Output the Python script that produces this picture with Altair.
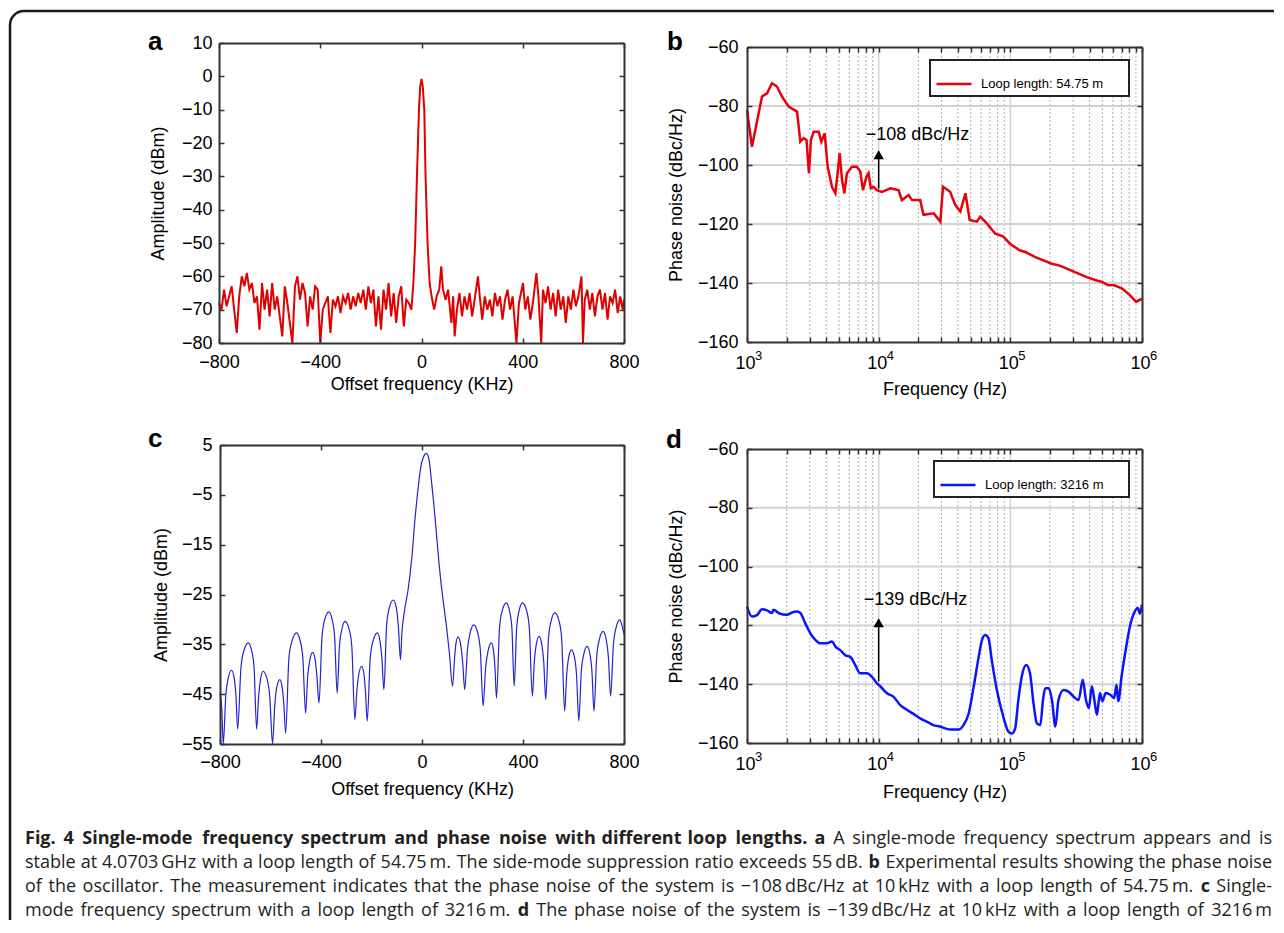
import altair as alt
import pandas as pd

# ---------------- data ----------------
# (a) spectrum, loop 54.75 m : offset frequency (kHz) / amplitude (dBm)
A_F = [-800, -790, -780, -770, -760, -750, -740, -730, -720, -710,
       -700, -690, -680, -670, -660, -650, -640, -630, -620, -610,
       -600, -590, -580, -570, -560, -550, -540, -530, -520, -510,
       -500, -490, -480, -470, -460, -450, -440, -430, -420, -410,
       -400, -390, -380, -370, -360, -350, -340, -330, -320, -310,
       -300, -290, -280, -270, -260, -250, -240, -230, -220, -210,
       -200, -190, -180, -170, -160, -150, -140, -130, -120, -110,
       -100, -90, -80, -70, -60, -50, -40, -32, -25, -18,
       -10, -5, 0, 5, 11, 16, 24, 32, 40, 50,
       60, 70, 78, 85, 95, 105, 118, 125, 131, 140,
       150, 160, 170, 180, 190, 200, 210, 223, 230, 240,
       250, 260, 270, 280, 290, 300, 310, 320, 330, 340,
       350, 360, 375, 385, 401, 410, 420, 430, 440, 454,
       462, 473, 480, 490, 500, 510, 520, 530, 540, 550,
       560, 570, 580, 590, 600, 610, 620, 632, 638, 645,
       655, 665, 675, 685, 695, 705, 715, 725, 735, 745,
       755, 765, 775, 785, 795, 800]
A_P = [-68, -70, -64, -69, -66, -63, -70, -77, -66, -60,
       -63, -59, -64, -62, -68, -66, -76, -62, -70, -64,
       -72, -62, -70, -66, -72, -78, -63, -68, -74, -82,
       -63, -60, -67, -62, -65, -75, -66, -70, -63, -64,
       -82, -70, -68, -66, -77, -67, -69, -66, -71, -66,
       -68, -65, -70, -66, -69, -65, -68, -64, -70, -63,
       -68, -64, -75, -66, -76, -64, -70, -62, -72, -65,
       -74, -66, -63, -75, -67, -68, -70, -62, -50, -30,
       -10, -3, -0.8, -3, -10, -30, -50, -62, -66, -70,
       -66, -64, -57, -64, -67, -64, -74, -66, -78, -70,
       -65, -72, -66, -70, -65, -72, -67, -60, -66, -73,
       -66, -70, -67, -72, -65, -69, -66, -73, -67, -64,
       -70, -66, -82, -68, -62, -70, -66, -73, -68, -59,
       -66, -82, -64, -68, -63, -70, -65, -72, -64, -70,
       -66, -74, -66, -70, -64, -69, -66, -60, -82, -67,
       -64, -70, -65, -72, -66, -64, -70, -65, -73, -66,
       -68, -64, -71, -66, -70, -67]

# (b) phase noise, loop 54.75 m : frequency (Hz) / dBc/Hz
B_F = [1000, 1091, 1191, 1300, 1419, 1548, 1690, 1844, 2071, 2398,
       2541, 2692, 2830, 2955, 3060, 3209, 3504, 3667, 3890, 4098,
       4420, 4690, 4878, 5056, 5270, 5489, 5740, 6260, 6840, 7250,
       7600, 8070, 8370, 8720, 9150, 9700, 10600, 12260, 14150, 15000,
       16900, 17900, 20670, 21900, 26200, 29400, 30800, 34900, 38200, 41700,
       45600, 49100, 55600, 59100, 66300, 76500, 88500, 99500, 117500, 130000,
       154900, 204200, 240000, 288400, 330000, 380200, 440000, 501200, 550000, 616600,
       707900, 812800, 901600, 1000000]
B_P = [-81.4, -93.8, -85.3, -76.8, -75.7, -72.3, -73.4, -76.8, -80.2, -81.9,
       -92.1, -90.9, -91.5, -102.8, -91.5, -88.7, -88.7, -92.1, -89.3, -100.6,
       -107.4, -109.6, -102.8, -96.0, -105.1, -109.6, -102.8, -100.6, -100.6, -102.2,
       -108.5, -104.0, -102.8, -107.9, -107.4, -108.5, -109.1, -107.9, -108.5, -111.9,
       -110.2, -111.9, -111.9, -116.9, -116.4, -119.2, -107.4, -109.1, -113.6, -115.8,
       -109.6, -118.6, -119.2, -117.5, -119.8, -123.2, -124.3, -126.7, -128.9, -129.5,
       -131.2, -133.4, -134.2, -135.7, -136.8, -138.0, -139.0, -139.7, -140.7, -140.8,
       -141.9, -144.2, -146.4, -145.3]

# (c) spectrum, loop 3216 m : offset frequency (kHz) / amplitude (dBm)
C_F = [-800, -793, -787, -777, -767, -754, -744, -737, -730, -717, -705, -688, -675, -665, -655,
       -647, -639, -629, -614, -603, -592, -583, -575, -563, -554, -547, -540, -527, -514, -497,
       -483, -472, -461, -453, -444, -433, -423, -416, -408, -396, -385, -369, -356, -346, -336,
       -327, -317, -305, -289, -278, -266, -258, -250, -239, -230, -224, -217, -205, -193, -177,
       -167, -159, -151, -140, -129, -114, -102, -94, -85, -80, -70, -55, -40, -28, -15,
       -5, 5, 18, 28, 38, 48, 57, 67, 77, 87, 97, 108, 121, 128, 134,
       143, 153, 161, 169, 180, 191, 205, 220, 231, 242, 252, 262, 275, 283, 289,
       295, 307, 318, 334, 346, 356, 365, 375, 385, 398, 414, 425, 437, 445, 453,
       464, 474, 482, 490, 501, 512, 526, 542, 553, 565, 573, 581, 592, 604, 612,
       621, 631, 641, 654, 665, 673, 681, 692, 703, 717, 729, 738, 747, 758, 769,
       783, 792, 800]
C_P = [-44.8, -48, -55, -45.2, -41.7, -40.2, -41.7, -45.2, -52, -39.7, -36.2, -34.7, -36.2, -39.7, -52,
       -45.4, -41.9, -40.4, -41.9, -45.4, -55, -47.1, -43.6, -42.1, -43.6, -47.1, -52.8, -37.7, -34.2, -32.7,
       -34.2, -37.7, -48.8, -41.6, -38.1, -36.6, -38.1, -41.6, -46.8, -33.5, -30, -28.5, -30, -33.5, -44.8,
       -35.4, -31.9, -30.4, -31.9, -35.4, -50.1, -44.4, -40.9, -39.4, -40.9, -44.4, -50.4, -37.7, -34.2, -32.7,
       -34.2, -37.7, -44.1, -31.1, -27.6, -26.1, -27.6, -31.1, -38.1, -33, -28.5, -24, -17.5, -10, -3.5,
       0.5, 2.5, 3.3, 2, -2.5, -7.5, -12.7, -18.5, -23.4, -27.5, -31.4, -36.5, -43.4, -38.5, -35,
       -33.5, -35, -38.5, -44.1, -36.1, -32.6, -31.1, -32.6, -36.1, -47.4, -39.7, -36.2, -34.7, -36.2, -39.7,
       -45.8, -31.7, -28.2, -26.7, -28.2, -31.7, -43.4, -31.7, -28.2, -26.7, -28.2, -31.7, -45.4, -38.4, -34.9,
       -33.4, -34.9, -38.4, -46.1, -33.7, -30.2, -28.7, -30.2, -33.7, -48.4, -41.1, -37.6, -36.1, -37.6, -41.1,
       -50.4, -40.4, -36.9, -35.4, -36.9, -40.4, -48.4, -37.4, -33.9, -32.4, -33.9, -37.4, -45.4, -35.1, -31.6,
       -30.1, -31.2, -33]

# (d) phase noise, loop 3216 m : frequency (Hz) / dBc/Hz
D_F = [1000, 1091, 1191, 1300, 1419, 1548, 1590, 1740, 2012, 2200,
       2398, 2541, 2772, 3028, 3305, 3606, 4051, 4420, 4690, 5110,
       5570, 6090, 6640, 7250, 8140, 8900, 9700, 10280, 11570, 12990,
       14580, 16370, 18380, 20630, 23160, 26000, 29200, 34900, 40400, 44100,
       48300, 52700, 57500, 60900, 64500, 68300, 72300, 79000, 88500, 96900,
       102600, 108700, 115000, 122000, 132000, 141000, 150000, 159000, 169000, 177000,
       184000, 196000, 207000, 220000, 232000, 254000, 278000, 304000, 330000, 355000,
       375000, 395000, 416000, 438000, 455000, 479000, 500000, 530000, 575000, 615000,
       640000, 660000, 700000, 760000, 810000, 870000, 930000, 965000, 1000000]
D_P = [-113.6, -117.0, -116.5, -114.5, -114.9, -115.8, -114.7, -115.8, -116.4, -115.6,
       -115.3, -115.8, -119.3, -122.7, -124.9, -126.1, -126.1, -125.5, -127.2, -128.4,
       -130.1, -130.7, -133.5, -136.3, -136.3, -137.5, -139.7, -140.7, -143.1, -144.3,
       -147.1, -148.7, -150.1, -151.6, -152.7, -153.9, -154.4, -155.4, -155.4, -153.9,
       -149.9, -140.8, -130.7, -125.0, -123.3, -124.4, -131.8, -142.0, -151.1, -156.2,
       -156.8, -155.1, -145.4, -137.5, -133.5, -136.3, -146.5, -153.3, -153.9, -145.4,
       -141.4, -141.4, -145.4, -154.4, -145.4, -142.0, -142.6, -144.3, -145.4, -138.5,
       -145.3, -148.1, -140.7, -146.4, -150.4, -143.0, -145.8, -143.0, -143.6, -144.7,
       -140.2, -145.8, -137.3, -127.1, -120.3, -115.8, -114.1, -116.0, -112.9]

LIN_X_TICKS = [-800, -400, 0, 400, 800]
A_Y_TICKS = [-80, -70, -60, -50, -40, -30, -20, -10, 0, 10]
C_Y_TICKS = [-55, -45, -35, -25, -15, -5, 5]
PN_Y_TICKS = [-160, -140, -120, -100, -80, -60]
PN_GRID_Y = [-140, -120, -100, -80]
LOG_MAJOR = [1e3, 1e4, 1e5, 1e6]
LOG_EXP = ["3", "4", "5", "6"]
LOG_INNER_MAJOR = [1e4, 1e5]
LOG_MINOR = [2e3, 3e3, 4e3, 5e3, 6e3, 7e3, 8e3, 9e3,
             2e4, 3e4, 4e4, 5e4, 6e4, 7e4, 8e4, 9e4,
             2e5, 3e5, 4e5, 5e5, 6e5, 7e5, 8e5, 9e5]
LOG_TICKS = sorted(LOG_MAJOR + LOG_MINOR)

PAD = "\u2800" * 2   # blank pattern, widens the legend box on the right
LEG_B = "Loop length: 54.75 m" + PAD
LEG_D = "Loop length: 3216 m" + PAD

CAPTION = [
    [("Fig. 4 Single-mode frequency spectrum and phase noise with different loop lengths. a", "bold"),
     ("A single-mode frequency spectrum appears and is", "normal")],
    [("stable at 4.0703\u2009GHz with a loop length of 54.75\u2009m. The side-mode suppression ratio exceeds 55\u2009dB.", "normal"),
     ("b", "bold"),
     ("Experimental results showing the phase noise", "normal")],
    [("of the oscillator. The measurement indicates that the phase noise of the system is \u2212108\u2009dBc/Hz at 10\u2009kHz with a loop length of 54.75\u2009m.", "normal"),
     ("c", "bold"),
     ("Single-", "normal")],
    [("mode frequency spectrum with a loop length of 3216\u2009m.", "normal"),
     ("d", "bold"),
     ("The phase noise of the system is \u2212139\u2009dBc/Hz at 10\u2009kHz with a loop length of 3216\u2009m", "normal")],
]

# ---------------- layout ----------------
W, H = 1266, 912
FONT = "Liberation Sans"
CAP_FONT = "Open Sans"
CAP_FS = 18
CAP_Y = [836, 860, 884, 908]
CAP_X0, CAP_X1 = 17, 1264
INK = "#333333"
ONE = alt.Data(values=[{}])

GA = (211, 616, 35, 335)   # x0, x1, top, bottom (px)
GB = (739, 1134, 39, 334)
GC = (212, 616, 437, 736)
GD = (739, 1134, 441, 735)

# approximate advance widths of the caption font (units per 2048 em), used to justify the caption
ADV = {" ": 532, "\u2009": 410, ".": 545, ",": 502, "-": 659, "/": 752, "\u2212": 1171, ":": 545,
       "a": 1139, "b": 1255, "c": 975, "d": 1255, "e": 1149, "f": 694, "g": 1122, "h": 1257,
       "i": 518, "j": 518, "k": 1075, "l": 518, "m": 1905, "n": 1257, "o": 1237, "p": 1255,
       "q": 1255, "r": 836, "s": 977, "t": 723, "u": 1257, "v": 1026, "w": 1593, "x": 1073,
       "y": 1028, "z": 977, "A": 1296, "B": 1327, "E": 1139, "F": 1057, "G": 1491, "H": 1511,
       "S": 1098, "T": 1124}


def text_w(s, fs, bold):
    tot = 0.0
    for ch in s:
        w = ADV.get(ch, 1171)
        if bold and ch != " ":
            w *= 1.075
        tot += w
    return tot / 2048.0 * fs


def xs_lin(g):
    return alt.Scale(domain=[-800, 800], range=[g[0], g[1]], nice=False, zero=False)


def xs_log(g):
    return alt.Scale(type="log", domain=[1e3, 1e6], range=[g[0], g[1]], nice=False)


def ys_lin(g, lo, hi):
    return alt.Scale(domain=[lo, hi], range=[g[3], g[2]], nice=False, zero=False, clamp=True)


def frame(df, xs, ys, g, xvals, yvals):
    x0, x1, y0, y1 = g
    tk = dict(labels=False, ticks=True, tickSize=5, tickWidth=1.5, tickColor=INK,
              domain=True, domainColor=INK, domainWidth=2, grid=False, title="", zindex=3)
    base = alt.Chart(df).mark_line(strokeOpacity=0)
    l2 = base.encode(
        x=alt.X("x:Q", scale=xs, axis=alt.Axis(orient="top", offset=-y1, values=xvals, **tk)),
        y=alt.Y("y:Q", scale=ys, axis=alt.Axis(orient="right", offset=x0 - W, values=yvals, **tk)))
    l3 = base.encode(
        x=alt.X("x:Q", scale=xs, axis=alt.Axis(orient="bottom", offset=y0 - H, values=xvals, **tk)),
        y=alt.Y("y:Q", scale=ys, axis=alt.Axis(orient="left", offset=-x1, values=yvals, **tk)))
    return [l2, l3]


def labeled(df, xs, ys, g, xvals, yvals, xtitle, ytitle, xpad, ypad, xtitle_y, ytitle_x, xexpr=None):
    x0, x1, y0, y1 = g
    common = dict(ticks=False, tickSize=0, domain=False, grid=False, labelFont=FONT, labelFontSize=18,
                  labelColor="black", labelOverlap=False, labelFlush=False,
                  titleFont=FONT, titleFontSize=18, titleFontWeight="normal", titleColor="black",
                  titleBaseline="alphabetic")
    xkw = dict(orient="bottom", offset=y1 - H, values=xvals, labelPadding=xpad,
               labelBaseline="alphabetic", title=xtitle, titleY=xtitle_y, **common)
    if xexpr:
        xkw["labelExpr"] = xexpr
        xkw["labelOffset"] = -2
    ykw = dict(orient="left", offset=-x0, values=yvals, labelPadding=ypad, title=ytitle,
               titleAngle=270, titleX=ytitle_x, **common)
    return alt.Chart(df).mark_line(strokeOpacity=0).encode(
        x=alt.X("x:Q", scale=xs, axis=alt.Axis(**xkw)),
        y=alt.Y("y:Q", scale=ys, axis=alt.Axis(**ykw)))


def legend_for(lx, ly):
    return alt.Legend(orient="none", legendX=lx, legendY=ly, title=None,
                      labelFont=FONT, labelFontSize=13, labelColor="black", labelOffset=8,
                      symbolType="stroke", symbolSize=1225, symbolStrokeWidth=2.5,
                      padding=5, strokeColor="#222222", fillColor="white")


def pn_grid(xs, ys):
    minor = alt.Chart(pd.DataFrame({"x": LOG_MINOR})).mark_rule(
        color="#b0b0b0", strokeWidth=1, strokeDash=[2, 2]).encode(
        x=alt.X("x:Q", scale=xs, axis=None),
        y=alt.YDatum(-160, scale=ys, axis=None), y2=alt.Y2Datum(-60))
    major = alt.Chart(pd.DataFrame({"x": LOG_INNER_MAJOR})).mark_rule(
        color="#d2d2d2", strokeWidth=1.5).encode(
        x=alt.X("x:Q", scale=xs, axis=None),
        y=alt.YDatum(-160, scale=ys, axis=None), y2=alt.Y2Datum(-60))
    hor = alt.Chart(pd.DataFrame({"y": PN_GRID_Y})).mark_rule(
        color="#d2d2d2", strokeWidth=2).encode(
        y=alt.Y("y:Q", scale=ys, axis=None),
        x=alt.XDatum(1e3, scale=xs, axis=None), x2=alt.X2Datum(1e6))
    return [minor, major, hor]


def exponents(xs, ys):
    return alt.Chart(pd.DataFrame({"x": LOG_MAJOR, "e": LOG_EXP})).mark_text(
        font=FONT, fontSize=13, align="left", baseline="alphabetic", dx=8, dy=18, color="black").encode(
        x=alt.X("x:Q", scale=xs, axis=None), y=alt.YDatum(-160, scale=ys, axis=None), text="e:N")


def arrow(xs, ys, y_from, y_to, y_head, label, y_label, dx):
    r = alt.Chart(ONE).mark_rule(color="black", strokeWidth=1.5).encode(
        x=alt.XDatum(1e4, scale=xs, axis=None), y=alt.YDatum(y_from, scale=ys, axis=None),
        y2=alt.Y2Datum(y_to))
    h = alt.Chart(ONE).mark_point(shape="triangle-up", filled=True, color="black", size=110, opacity=1).encode(
        x=alt.XDatum(1e4, scale=xs, axis=None), y=alt.YDatum(y_head, scale=ys, axis=None))
    t = alt.Chart(ONE).mark_text(text=label, font=FONT, fontSize=18, align="left", baseline="alphabetic",
                                 dx=dx, color="black").encode(
        x=alt.XDatum(1e4, scale=xs, axis=None), y=alt.YDatum(y_label, scale=ys, axis=None))
    return [r, h, t]


# ---------------- panel a ----------------
dfa = pd.DataFrame({"x": A_F, "y": A_P})
xa, ya = xs_lin(GA), ys_lin(GA, -80, 10)
line_a = alt.Chart(dfa).mark_line(color="#e00000", strokeWidth=2).encode(
    x=alt.X("x:Q", scale=xa, axis=None), y=alt.Y("y:Q", scale=ya, axis=None))
pa = alt.layer(
    line_a,
    labeled(dfa, xa, ya, GA, LIN_X_TICKS, A_Y_TICKS, "Offset frequency (KHz)", "Amplitude (dBm)",
            24, 7, 46, -56),
    *frame(dfa, xa, ya, GA, LIN_X_TICKS, A_Y_TICKS),
).resolve_axis(x="independent", y="independent")

# ---------------- panel b ----------------
dfb = pd.DataFrame({"x": B_F, "y": B_P, "s": [LEG_B] * len(B_F)})
xb, yb = xs_log(GB), ys_lin(GB, -160, -60)
line_b = alt.Chart(dfb).mark_line(strokeWidth=2.5).encode(
    x=alt.X("x:Q", scale=xb, axis=None), y=alt.Y("y:Q", scale=yb, axis=None),
    color=alt.Color("s:N", scale=alt.Scale(domain=[LEG_B], range=["#e8000b"]), legend=legend_for(922, 52)))
pb = alt.layer(
    *pn_grid(xb, yb),
    line_b,
    *arrow(xb, yb, -108, -97.5, -96.5, "\u2212108 dBc/Hz", -91.5, -13),
    exponents(xb, yb),
    labeled(dfb, xb, yb, GB, LOG_MAJOR, PN_Y_TICKS, "Frequency (Hz)", "Phase noise (dBc/Hz)",
            26, 9, 52, -66, xexpr="'10'"),
    *frame(dfb, xb, yb, GB, LOG_TICKS, PN_Y_TICKS),
).resolve_axis(x="independent", y="independent")

# ---------------- panel c ----------------
dfc = pd.DataFrame({"x": C_F, "y": C_P})
xc, yc = xs_lin(GC), ys_lin(GC, -55, 5)
line_c = alt.Chart(dfc).mark_line(color="#2323d2", strokeWidth=1.2, interpolate="monotone").encode(
    x=alt.X("x:Q", scale=xc, axis=None), y=alt.Y("y:Q", scale=yc, axis=None))
pc = alt.layer(
    line_c,
    labeled(dfc, xc, yc, GC, LIN_X_TICKS, C_Y_TICKS, "Offset frequency (KHz)", "Amplitude (dBm)",
            23, 8, 50, -54),
    *frame(dfc, xc, yc, GC, LIN_X_TICKS, C_Y_TICKS),
).resolve_axis(x="independent", y="independent")

# ---------------- panel d ----------------
dfd = pd.DataFrame({"x": D_F, "y": D_P, "s": [LEG_D] * len(D_F)})
xd, yd = xs_log(GD), ys_lin(GD, -160, -60)
line_d = alt.Chart(dfd).mark_line(strokeWidth=2.5, interpolate="monotone").encode(
    x=alt.X("x:Q", scale=xd, axis=None), y=alt.Y("y:Q", scale=yd, axis=None),
    color=alt.Color("s:N", scale=alt.Scale(domain=[LEG_D], range=["#0a14ff"]), legend=legend_for(926, 453)))
pdd = alt.layer(
    *pn_grid(xd, yd),
    line_d,
    *arrow(xd, yd, -139, -120, -119.1, "\u2212139 dBc/Hz", -113.1, -15),
    exponents(xd, yd),
    labeled(dfd, xd, yd, GD, LOG_MAJOR, PN_Y_TICKS, "Frequency (Hz)", "Phase noise (dBc/Hz)",
            26, 9, 54, -66, xexpr="'10'"),
    *frame(dfd, xd, yd, GD, LOG_TICKS, PN_Y_TICKS),
).resolve_axis(x="independent", y="independent")


# ---------------- texts ----------------
def txt(s, x, y, size, weight="normal", align="left", font=FONT, color="black"):
    return alt.Chart(ONE).mark_text(text=s, x=x, y=y, font=font, fontSize=size, fontWeight=weight,
                                    align=align, baseline="alphabetic", color=color)


letters = [txt("a", 140, 42, 26, "bold"), txt("b", 659, 42, 26, "bold"),
           txt("c", 140, 439, 26, "bold"), txt("d", 658, 440, 26, "bold")]

# justified caption: every word is placed so that each line runs from CAP_X0 to CAP_X1
cap_layers = []
for i, segs in enumerate(CAPTION):
    words = [(w, wt) for s, wt in segs for w in s.split(" ")]
    widths = [text_w(w, CAP_FS, wt == "bold") for w, wt in words]
    gap = (CAP_X1 - CAP_X0 - sum(widths)) / (len(words) - 1)
    x = CAP_X0
    for k, ((w, wt), ww) in enumerate(zip(words, widths)):
        if k == len(words) - 1:
            cap_layers.append(txt(w, CAP_X1, CAP_Y[i], CAP_FS, wt, "right", CAP_FONT, "#231f20"))
        else:
            cap_layers.append(txt(w, round(x, 1), CAP_Y[i], CAP_FS, wt, "left", CAP_FONT, "#231f20"))
        x += ww + gap

border = alt.Chart(ONE).mark_rect(fill="transparent", stroke="#1a1a1a", strokeWidth=2.5, cornerRadius=14).encode(
    x=alt.value(2), x2=alt.value(W + 60), y=alt.value(3), y2=alt.value(H + 60))

chart = alt.layer(border, pa, pb, pc, pdd, *letters, *cap_layers).resolve_scale(
    x="independent", y="independent", color="independent"
).properties(
    width=W, height=H, padding=0, autosize=alt.AutoSizeParams(type="none"), background="white"
).configure_view(stroke="transparent").configure_legend(strokeWidth=2)

chart.save("out.html", embed_options={"renderer": "svg", "actions": False})
